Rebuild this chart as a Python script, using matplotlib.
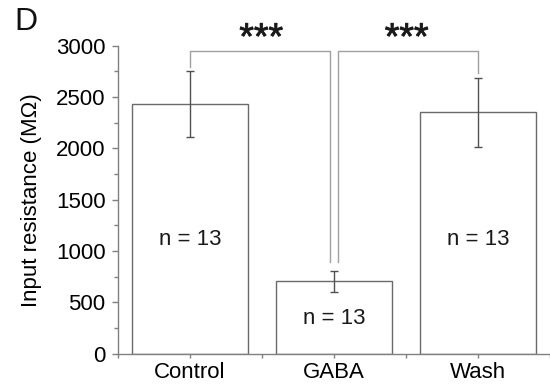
import matplotlib
matplotlib.use("Agg")
import matplotlib.pyplot as plt
import matplotlib.patheffects as pe
from matplotlib.ticker import MultipleLocator

plt.rcParams['font.family'] = ['Liberation Sans', 'DejaVu Sans']

# Data
conditions = ["Control", "GABA", "Wash"]
means = [2430, 705, 2350]
sems = [320, 105, 340]
n_labels = ["n = 13", "n = 13", "n = 13"]
n_label_y = [1115, 340, 1115]
sig_labels = ["***", "***"]

bar_edge = "#6a6a6a"
err_col = "#505050"
bracket_col = "#a0a0a0"
spine_col = "#808080"

fig = plt.figure(figsize=(5.5, 3.9), dpi=100)
ax = fig.add_axes([0.2145, 0.0931, 0.7855, 0.7897])

x = list(range(len(conditions)))
ax.bar(x, means, width=0.8, color="white", edgecolor=bar_edge, linewidth=1.0, zorder=2)
ax.errorbar(x, means, yerr=sems, fmt="none", ecolor=err_col, elinewidth=1.0,
            capsize=3, capthick=1.0, zorder=3)

for xi, lab, yi in zip(x, n_labels, n_label_y):
    ax.text(xi, yi, lab, ha="center", va="center", fontsize=16, color="#1a1a1a", zorder=4)

ax.set_xlim(-0.5, 2.5)
ax.set_ylim(0, 3000)
ax.set_xticks(x)
ax.set_xticklabels(conditions, fontsize=16)
ax.xaxis.set_minor_locator(MultipleLocator(1, offset=0.5))
ax.yaxis.set_major_locator(MultipleLocator(500))
ax.yaxis.set_minor_locator(MultipleLocator(250))
ax.tick_params(axis="y", which="major", length=4, width=1, color=spine_col, labelsize=16, pad=5)
ax.tick_params(axis="y", which="minor", length=3, width=1, color=spine_col)
ax.tick_params(axis="x", which="both", length=3, width=1, color=spine_col, labelsize=16, pad=3)
ax.set_ylabel("Input resistance (MΩ)", fontsize=16, labelpad=10)

for side in ("top", "right"):
    ax.spines[side].set_visible(False)
for side in ("left", "bottom"):
    ax.spines[side].set_color(spine_col)
    ax.spines[side].set_linewidth(1.0)

# Significance brackets
bracket_top = 2950
gap = 0.03
brackets = [
    (0, 1 - gap, means[0] + sems[0] + 40, 890),
    (1 + gap, 2, 890, means[2] + sems[2] + 40),
]
for (x1, x2, y1, y2), lab in zip(brackets, sig_labels):
    ax.plot([x1, x1, x2, x2], [y1, bracket_top, bracket_top, y2],
            color=bracket_col, linewidth=1.0, clip_on=False, zorder=1)
    t = ax.text((x1 + x2) / 2 + (0.01 if x1 < 1 else -0.01), 3065, lab,
                ha="center", va="center", fontsize=27, color="#1a1a1a")
    t.set_path_effects([pe.withStroke(linewidth=0.6, foreground="#1a1a1a")])

fig.text(0.027, 0.905, "D", fontsize=23, ha="left", va="bottom", color="#111111")

fig.savefig("out.png", dpi=100)
